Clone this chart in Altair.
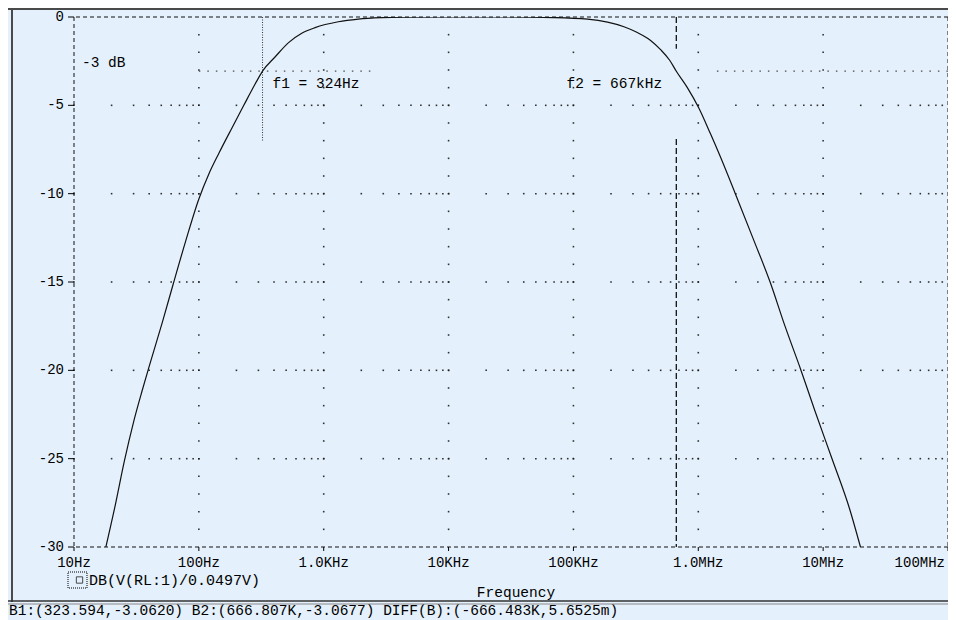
import altair as alt
import pandas as pd

# ---- axis ticks / labels ----
decades = [10, 100, 1e3, 1e4, 1e5, 1e6, 1e7, 1e8]
decade_labels = ["10Hz", "100Hz", "1.0KHz", "10KHz", "100KHz", "1.0MHz", "10MHz", "100MHz"]
minor_mult = [1, 2, 3, 4, 5, 6, 7, 8, 9]
y_ticks = [0, -5, -10, -15, -20, -25, -30]
y_tick_labels = ["0", "-5", "-10", "-15", "-20", "-25", "-30"]
y_grid = [-5, -10, -15, -20, -25]
y_fine = [-v for v in range(1, 30)]

# ---- trace DB(V(RL:1)/0.0497V) ----
freq_hz = [18.0, 21.6, 25.2, 30.3, 35.3, 39.9, 50.9, 62.4, 78.3, 100, 120, 145, 185,
           229, 283, 323.6, 409, 523, 667, 853, 1309, 1892, 2903, 4500, 10000, 30000,
           70000, 129800, 187500, 254000, 325000, 415000, 499000, 590000, 666800,
           815000, 1010000, 1250000, 1500000, 1980000, 2770000, 3760000, 4950000,
           6610000, 8600000, 11700000, 16300000, 19900000]
gain_db = [-30.0, -27.5, -25.2, -22.8, -21.1, -19.8, -17.3, -15.1, -12.7, -10.3, -8.9,
           -7.7, -6.25, -5.0, -3.78, -3.06, -2.25, -1.45, -0.92, -0.6, -0.27, -0.12,
           -0.04, -0.01, 0.0, 0.0, -0.03, -0.12, -0.29, -0.55, -0.88, -1.33, -1.85,
           -2.45, -3.07, -3.98, -5.15, -6.6, -7.9, -10.0, -12.6, -15.0, -17.5, -19.95,
           -22.3, -24.95, -27.85, -30.0]

# ---- cursors ----
f1_hz = 323.594
f2_hz = 666807.0
cursor_db = -3.062
f1_seg_top = [0.0]
f1_seg_bot = [-7.0]
f2_seg_top = [0.0, -6.9]
f2_seg_bot = [-1.8, -30.0]
h_seg_from = [100.0, 1.41e6]
h_seg_to = [2500.0, 1e8]

# ---- texts ----
annot_texts = ["-3 dB", "f1 = 324Hz", "f2 = 667kHz"]
legend_text = "DB(V(RL:1)/0.0497V)"
x_title = "Frequency"
status_text = "B1:(323.594,-3.0620)  B2:(666.807K,-3.0677)  DIFF(B):(-666.483K,5.6525m)"

FONT = "Liberation Mono"
BG = "#E4F0FB"
W, H = 874, 530
PAD_L = 66

xs = alt.Scale(type="log", domain=[10, 1e8], nice=False)
ys = alt.Scale(domain=[-30, 0], nice=False, zero=False)


def X(field):
    return alt.X(field, scale=xs, axis=None)


def Y(field):
    return alt.Y(field, scale=ys, axis=None)


one = pd.DataFrame({"k": [0]})
curve_df = pd.DataFrame({"f": freq_hz, "db": gain_db})

# grid dots (PSpice style)
dots = []
for d in y_grid:
    for k in decades[:-1]:
        for m in minor_mult:
            dots.append({"f": m * k, "db": d})
for k in decades[1:-1]:
    for v in y_fine:
        dots.append({"f": k, "db": v})
grid = alt.Chart(pd.DataFrame(dots)).mark_square(size=2.5, color="#1a1a1a", opacity=0.9).encode(
    x=X("f:Q"), y=Y("db:Q"))

# plot borders (dashed)
hb = alt.Chart(pd.DataFrame({"db": [y_ticks[0], y_ticks[-1]]})).mark_rule(
    color="#111111", strokeDash=[4, 3], strokeWidth=1).encode(y=Y("db:Q"))
vb = alt.Chart(pd.DataFrame({"f": [decades[0], decades[-1]]})).mark_rule(
    color="#111111", strokeDash=[4, 3], strokeWidth=1).encode(x=X("f:Q"))

# axis ticks and labels
yt_df = pd.DataFrame({"db": y_ticks, "label": y_tick_labels})
y_tick_marks = alt.Chart(yt_df).mark_rule(color="black", strokeWidth=1).encode(
    y=Y("db:Q"), x=alt.value(-6), x2=alt.value(0))
y_tick_text = alt.Chart(yt_df).mark_text(
    font=FONT, fontSize=14, color="black", align="right", baseline="middle").encode(
    y=Y("db:Q"), x=alt.value(-10), text="label:N")

xl_df = pd.DataFrame({"f": decades, "label": decade_labels})
x_tick_marks = alt.Chart(xl_df).mark_rule(color="black", strokeWidth=1).encode(
    x=X("f:Q"), y=alt.value(H), y2=alt.value(H + 4))
xl_mid = alt.Chart(xl_df).transform_filter("datum.f < 100000000").mark_text(
    font=FONT, fontSize=14, color="black", align="center", baseline="middle").encode(
    x=X("f:Q"), y=alt.value(546), text="label:N")
xl_end = alt.Chart(xl_df).transform_filter("datum.f >= 100000000").mark_text(
    font=FONT, fontSize=14, color="black", align="right", baseline="middle", dx=-3).encode(
    x=X("f:Q"), y=alt.value(546), text="label:N")

# cursor lines
cur_h = alt.Chart(pd.DataFrame({"db": [cursor_db] * 2, "x1": h_seg_from, "x2": h_seg_to})).mark_rule(
    color="#222222", strokeDash=[1.5, 7], strokeWidth=1).encode(y=Y("db:Q"), x=X("x1:Q"), x2="x2:Q")
cur_f1 = alt.Chart(pd.DataFrame({"f": [f1_hz], "y1": f1_seg_top, "y2": f1_seg_bot})).mark_rule(
    color="#333333", strokeDash=[1, 1.5], strokeWidth=1).encode(x=X("f:Q"), y=Y("y1:Q"), y2="y2:Q")
cur_f2 = alt.Chart(pd.DataFrame({"f": [f2_hz] * 2, "y1": f2_seg_top, "y2": f2_seg_bot})).mark_rule(
    color="#111111", strokeDash=[6, 3], strokeWidth=1.3).encode(x=X("f:Q"), y=Y("y1:Q"), y2="y2:Q")

# the trace
curve = alt.Chart(curve_df).mark_line(
    color="#111111", strokeWidth=1.2, interpolate="monotone", clip=True).encode(
    x=X("f:Q"), y=Y("db:Q"))


def label(txt, px, py, align="left", size=14):
    return alt.Chart(pd.DataFrame({"t": [txt]})).mark_text(
        font=FONT, fontSize=size, color="black", align=align, baseline="middle").encode(
        x=alt.value(px), y=alt.value(py), text="t:N")


ann1 = label(annot_texts[0], 8, 45.5, size=14.5)
ann2 = label(annot_texts[1], 198.5, 67, size=14.5)
ann3 = label(annot_texts[2], 492.5, 67, size=14.5)
title_txt = label(x_title, 442, 576, align="center", size=14.5)

# legend
leg_box = alt.Chart(one).mark_rect(fillOpacity=0, stroke="black", strokeDash=[1, 1], strokeWidth=1).encode(
    x=alt.value(-6), x2=alt.value(13), y=alt.value(555), y2=alt.value(571))
leg_sym = alt.Chart(one).mark_square(filled=False, size=40, color="black", strokeWidth=1).encode(
    x=alt.value(5.5), y=alt.value(563))
leg_txt = label(legend_text, 15, 563, size=15)

# status bar
status = label(status_text, -65, 594, size=14.5)

# window frame lines
frame_top = alt.Chart(one).mark_rule(color="#4a4a4a", strokeWidth=2).encode(
    x=alt.value(-PAD_L), x2=alt.value(W), y=alt.value(-8))
frame_left = alt.Chart(one).mark_rule(color="#4a4a4a", strokeWidth=2).encode(
    x=alt.value(-62), y=alt.value(-9), y2=alt.value(585))
frame_bot1 = alt.Chart(one).mark_rule(color="#333333", strokeWidth=1.5).encode(
    x=alt.value(-PAD_L), x2=alt.value(W), y=alt.value(584))
frame_bot2 = alt.Chart(one).mark_rule(color="#888888", strokeWidth=1).encode(
    x=alt.value(-PAD_L), x2=alt.value(W), y=alt.value(587))

chart = alt.layer(
    grid, hb, vb, y_tick_marks, y_tick_text, x_tick_marks, xl_mid, xl_end,
    cur_h, cur_f1, cur_f2, curve, ann1, ann2, ann3, title_txt,
    leg_box, leg_sym, leg_txt, status, frame_top, frame_left, frame_bot1, frame_bot2,
).properties(
    width=W, height=H,
    padding={"left": PAD_L, "top": 9, "right": 0, "bottom": 73},
    autosize=alt.AutoSizeParams(type="none"),
).configure(background=BG).configure_view(stroke=None)

chart.save("out.html", embed_options={"renderer": "svg", "actions": False})
